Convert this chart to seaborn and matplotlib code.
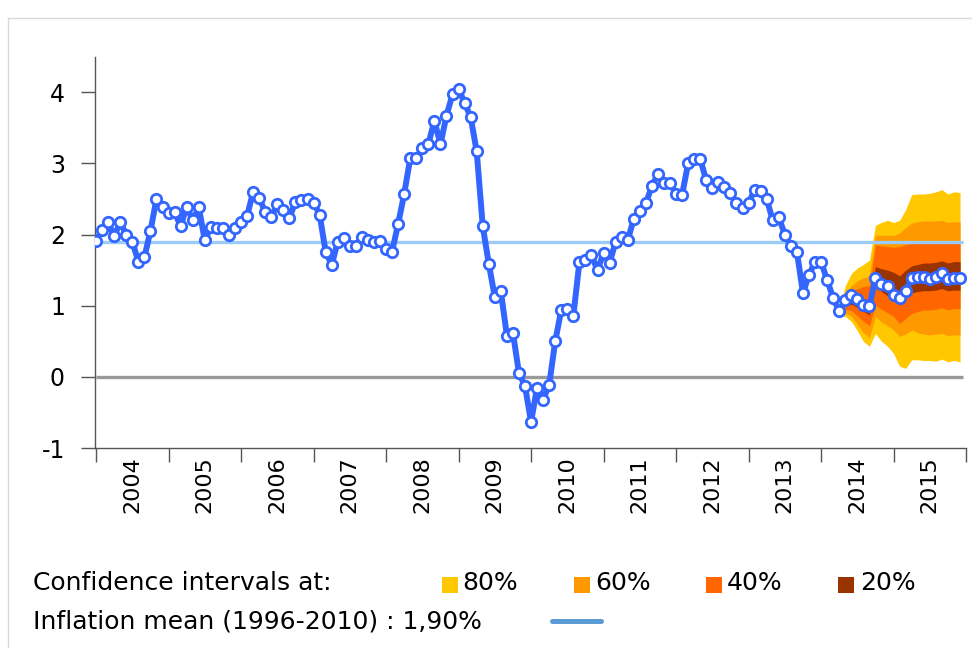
"""
Inflation fan chart: observed monthly inflation 2004-2014 with projection
and confidence bands to end of 2015.
"""

import numpy as np
import matplotlib
matplotlib.use('Agg')
import matplotlib.pyplot as plt
import seaborn as sns
from matplotlib.patches import Rectangle
from matplotlib.lines import Line2D

years = [str(y) for y in range(2004, 2016)]

# monthly values, first point = start of the 2004 band
observed = [
    1.91, 2.07, 2.17, 1.98, 2.17, 2.00, 1.90, 1.62, 1.68, 2.05, 2.50, 2.39,
    2.30, 2.31, 2.12, 2.39, 2.20, 2.38, 1.92, 2.11, 2.09, 2.09, 2.00, 2.09,
    2.18, 2.26, 2.60, 2.51, 2.32, 2.24, 2.43, 2.34, 2.23, 2.46, 2.49, 2.50,
    2.45, 2.28, 1.76, 1.57, 1.90, 1.95, 1.84, 1.84, 1.97, 1.93, 1.89, 1.91,
    1.79, 1.76, 2.15, 2.57, 3.07, 3.07, 3.22, 3.27, 3.60, 3.27, 3.67, 3.97,
    4.05, 3.85, 3.65, 3.17, 2.12, 1.59, 1.12, 1.20, 0.58, 0.62, 0.05, -0.13,
    -0.63, -0.15, -0.32, -0.11, 0.50, 0.94, 0.96, 0.86, 1.61, 1.64, 1.71, 1.50,
    1.74, 1.60, 1.90, 1.97, 1.92, 2.22, 2.33, 2.44, 2.68, 2.85, 2.73, 2.73,
    2.57, 2.56, 3.00, 3.06, 3.06, 2.76, 2.65, 2.74, 2.67, 2.59, 2.44, 2.37,
    2.44, 2.63, 2.61, 2.50, 2.20, 2.24, 2.00, 1.84, 1.76, 1.18, 1.43, 1.62,
    1.62, 1.36, 1.11,
]
projection = [
    0.92, 1.08, 1.15, 1.09, 1.01, 0.99, 1.39, 1.31, 1.28, 1.15, 1.11, 1.21,
    1.39, 1.41, 1.40, 1.37, 1.40, 1.46, 1.37, 1.39, 1.39,
]

# confidence bands (same months as projection)
hi80 = [0.95, 1.28, 1.45, 1.53, 1.58, 1.64, 2.13, 2.17, 2.20, 2.17, 2.20, 2.35, 2.56, 2.57, 2.57, 2.58, 2.60, 2.63, 2.57, 2.60, 2.59]
hi60 = [0.94, 1.16, 1.28, 1.35, 1.39, 1.42, 1.99, 1.99, 1.99, 1.99, 2.02, 2.10, 2.16, 2.18, 2.19, 2.19, 2.19, 2.20, 2.17, 2.18, 2.18]
hi40 = [0.93, 1.11, 1.20, 1.24, 1.27, 1.28, 1.85, 1.84, 1.83, 1.82, 1.83, 1.86, 1.88, 1.89, 1.90, 1.90, 1.90, 1.91, 1.89, 1.90, 1.90]
hi20 = [0.92, 1.06, 1.12, 1.12, 1.10, 1.08, 1.55, 1.52, 1.50, 1.47, 1.42, 1.50, 1.56, 1.58, 1.60, 1.60, 1.61, 1.63, 1.60, 1.62, 1.62]
lo20 = [0.91, 1.00, 1.02, 0.98, 0.92, 0.87, 1.27, 1.20, 1.14, 1.08, 1.01, 1.12, 1.18, 1.20, 1.21, 1.21, 1.22, 1.24, 1.21, 1.22, 1.22]
lo40 = [0.90, 0.95, 0.93, 0.86, 0.78, 0.72, 1.01, 0.95, 0.90, 0.85, 0.75, 0.82, 0.89, 0.92, 0.94, 0.94, 0.95, 0.97, 0.94, 0.96, 0.96]
lo60 = [0.89, 0.90, 0.85, 0.74, 0.62, 0.55, 0.85, 0.77, 0.72, 0.66, 0.57, 0.60, 0.66, 0.62, 0.60, 0.59, 0.60, 0.61, 0.58, 0.59, 0.59]
lo80 = [0.88, 0.85, 0.78, 0.65, 0.50, 0.43, 0.61, 0.50, 0.43, 0.33, 0.15, 0.12, 0.24, 0.24, 0.23, 0.23, 0.22, 0.25, 0.21, 0.23, 0.21]

band_labels = ['80%', '60%', '40%', '20%']
band_colors = ['#FFC800', '#FF9900', '#FF6600', '#993300']
mean_1996_2010 = 1.90

inflation = observed + projection
months = np.arange(len(inflation))
fan_months = months[len(observed):]

sns.set_style('white')
plt.rcParams['font.family'] = ['DejaVu Sans']
plt.rcParams['text.color'] = 'black'
plt.rcParams['xtick.color'] = 'black'
plt.rcParams['ytick.color'] = 'black'

fig = plt.figure(figsize=(9.72, 6.48), dpi=100)
ax = fig.add_axes([0.0982, 0.3086, 0.8957, 0.604])

# zero line
ax.hlines(0, 0, len(inflation) - 0.5, color='#999999', lw=2.4, zorder=1)

# fan
bands = [(lo80, hi80), (lo60, hi60), (lo40, hi40), (lo20, hi20)]
for (lo, hi), col in zip(bands, band_colors):
    ax.fill_between(fan_months, lo, hi, color=col, lw=0, zorder=2)

# long-run mean
ax.hlines(mean_1996_2010, 0, len(inflation) - 0.5, color='#9CCBF8', lw=2.4, zorder=3)

sns.lineplot(x=months, y=inflation, ax=ax, color='#3366FF', lw=4.3,
             marker='o', markersize=7.5, markerfacecolor='white',
             markeredgecolor='#3366FF', markeredgewidth=2, zorder=4)

ax.set_xlim(-0.1, 144)
ax.set_ylim(-1, 4.5)
ax.set_xlabel('')
ax.set_ylabel('')

ax.set_yticks(range(-1, 5))
ax.set_yticklabels([str(v) for v in range(-1, 5)], fontsize=17)
ax.tick_params(axis='y', direction='out', length=10, width=1, color='#555555',
               labelcolor='black', pad=12, left=True)

ax.set_xticks(np.arange(0, 145, 12))
ax.set_xticklabels([])
ax.set_xticks(np.arange(6, 144, 12), minor=True)
ax.set_xticklabels(years, minor=True, rotation=90, fontsize=16)
ax.tick_params(axis='x', which='major', direction='out', length=10, width=1,
               color='#555555', bottom=True)
ax.tick_params(axis='x', which='minor', length=0, pad=6, labelcolor='black')

for side in ['top', 'right']:
    ax.spines[side].set_visible(False)
for side in ['left', 'bottom']:
    ax.spines[side].set_color('#555555')
    ax.spines[side].set_linewidth(1)

# legend rows under the chart
fs = 18
fig.text(33 / 972, 1 - 583 / 648, 'Confidence intervals at:', fontsize=fs, va='center')
sq_x = [442, 574, 706, 838]
txt_x = [462, 595, 727, 860]
for sx, tx, lab, col in zip(sq_x, txt_x, band_labels, band_colors):
    fig.add_artist(Rectangle((sx / 972, 1 - 592.5 / 648), 16 / 972, 16 / 648,
                             transform=fig.transFigure, color=col, lw=0))
    fig.text(tx / 972, 1 - 583 / 648, lab, fontsize=fs, va='center')

fig.text(33 / 972, 1 - 622 / 648, 'Inflation mean (1996-2010) : 1,90%', fontsize=fs, va='center')
fig.add_artist(Line2D([552 / 972, 601 / 972], [1 - 620.5 / 648, 1 - 620.5 / 648],
                      transform=fig.transFigure, color='#5B9BD5', lw=3.6))

# outer frame
fig.add_artist(Rectangle((8 / 972, -0.01), 1.0, 1 - 18 / 648 + 0.01,
                         transform=fig.transFigure, fill=False,
                         edgecolor='#D9D9D9', lw=1))

fig.savefig('out.png', dpi=100)
plt.close(fig)
